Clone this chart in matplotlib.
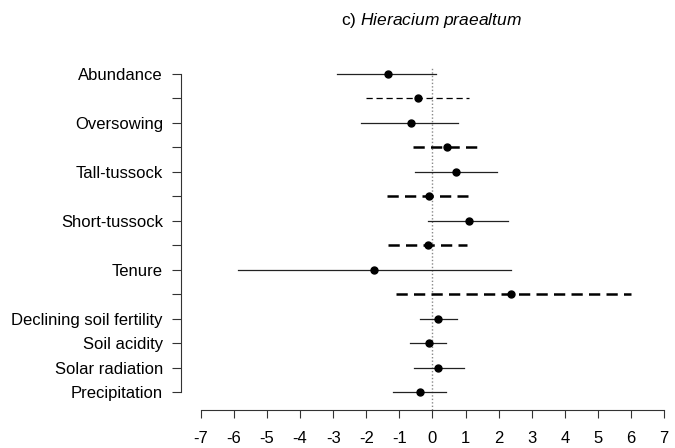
import numpy as np
import matplotlib
matplotlib.use("Agg")
import matplotlib.pyplot as plt

plt.rcParams["font.family"] = ["Liberation Sans", "DejaVu Sans"]
plt.rcParams["mathtext.fontset"] = "custom"
plt.rcParams["mathtext.it"] = "Liberation Sans:italic"
plt.rcParams["mathtext.rm"] = "Liberation Sans"

# Model terms, top to bottom (blank = interaction term)
labels = ["Abundance", "", "Oversowing", "", "Tall-tussock", "", "Short-tussock", "",
          "Tenure", "", "Declining soil fertility", "Soil acidity", "Solar radiation",
          "Precipitation"]
estimates = [-1.34, -0.45, -0.66, 0.43, 0.72, -0.10, 1.11, -0.13, -1.78, 2.37,
             0.17, -0.10, 0.18, -0.37]
lower = [-2.89, -2.02, -2.17, -0.60, -0.53, -1.36, -0.13, -1.34, -5.89, -1.09,
         -0.37, -0.68, -0.57, -1.20]
upper = [0.10, 1.11, 0.77, 1.39, 1.94, 1.06, 2.27, 1.04, 2.37, 5.99,
         0.75, 0.42, 0.94, 0.42]
# line type per term
styles = ["solid", "fine", "solid", "bold", "solid", "bold", "solid", "bold",
          "solid", "bold", "solid", "solid", "solid", "solid"]
xticks = list(range(-7, 8))

fig = plt.figure(figsize=(6.75, 4.48), dpi=100)
ax = fig.add_axes([181 / 675, 1 - 410 / 448, (670 - 181) / 675, (410 - 68) / 448])

rows = np.arange(len(labels))

# zero reference line
ax.axvline(0, color="#888888", linestyle=(0, (1, 1.5)), linewidth=1.0, zorder=1)

for i in rows:
    s = styles[i]
    if s == "fine":
        ax.plot([lower[i], upper[i]], [i, i], color="black", linewidth=0.9,
                linestyle=(0, (5, 3)), zorder=2)
    elif s == "bold":
        ax.plot([lower[i], upper[i]], [i, i], color="black", linewidth=1.8,
                linestyle=(0, (4.5, 2.5)), zorder=2)
    else:
        ax.plot([lower[i], upper[i]], [i, i], color="#222222", linewidth=0.9, zorder=2)
    ax.plot(estimates[i], i, "o", color="black", markersize=5, zorder=3)

ax.set_xlim(-7.6, 7.18)
ax.set_ylim(13.736, -0.245)

ax.set_yticks(rows)
ax.set_yticklabels(labels, fontsize=12)
ax.set_xticks(xticks)
ax.set_xticklabels([str(t) for t in xticks], fontsize=12)

for side in ["top", "right"]:
    ax.spines[side].set_visible(False)
ax.spines["left"].set_bounds(0, 13)
ax.spines["bottom"].set_bounds(-7, 7)
ax.spines["left"].set_color("#333333")
ax.spines["bottom"].set_color("#333333")
ax.tick_params(axis="y", direction="out", length=6.5, pad=6.5, color="#333333")
ax.tick_params(axis="x", direction="out", length=6, pad=9, color="#333333")

fig.text(431 / 675, 1 - 20 / 448, r"c) $Hieracium$ $praealtum$", ha="center",
         va="center", fontsize=12.5)

fig.savefig("out.png", dpi=100)
